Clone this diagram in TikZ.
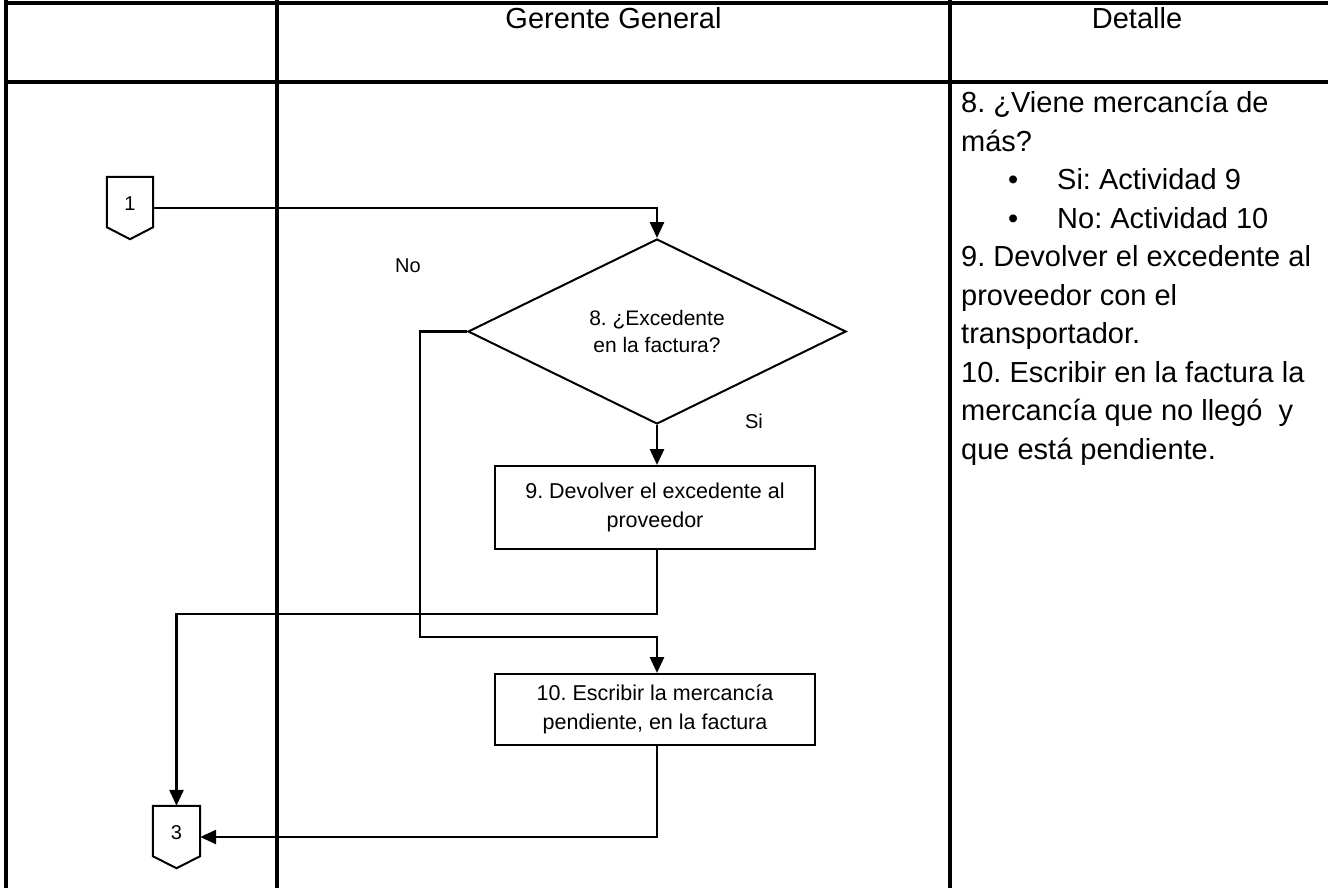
\documentclass[tikz,border=0pt]{standalone}
\usepackage{fontspec}
\setmainfont{Liberation Sans}
\usetikzlibrary{shapes.geometric,arrows.meta}
\frenchspacing

\begin{document}
\begin{tikzpicture}[x=1pt,y=-1pt,
  grid/.style={line width=3.2pt},
  flow/.style={line width=2.8pt,-{Triangle[width=14pt,length=16pt]}},
  stepbox/.style={draw,line width=2pt,rectangle,inner sep=0pt,
    minimum width=320pt,align=center,
    font=\fontsize{21.5}{29}\selectfont},
  decision/.style={draw,line width=2pt,diamond,aspect=2,inner sep=0pt,
    minimum width=378pt,minimum height=185pt,align=center,
    font=\fontsize{21}{27}\selectfont},
  offpage/.style={inner sep=0pt,font=\fontsize{20}{24}\selectfont},
  head/.style={anchor=base,font=\fontsize{29}{38}\selectfont},
  detail/.style={anchor=base west,inner sep=0pt,font=\fontsize{29}{38}\selectfont},
  tag/.style={font=\fontsize{20}{24}\selectfont}
]
\useasboundingbox (0,0) rectangle (1328,888);

% table frame
\draw[grid] (6,0) -- (6,888);
\draw[grid] (277,0) -- (277,888);
\draw[grid] (950,0) -- (950,888);
\draw[grid] (4.4,3) -- (1328,3);
\draw[grid] (4.4,82) -- (1328,82);

% header
\node[head] (hgg) at (613.5,29) {Gerente General};
\node[head] (hdet) at (1137,29) {Detalle};

% off-page connectors
\node[offpage,minimum width=46pt,minimum height=62pt] (c1) at (130,208) {\raisebox{8pt}{1}};
\draw[line width=2pt] (c1.north west) -- (c1.north east) -- ([yshift=12pt]c1.south east)
  -- (c1.south) -- ([yshift=12pt]c1.south west) -- cycle;
\node[offpage,minimum width=47pt,minimum height=62pt] (c3) at (176.5,837) {\raisebox{8pt}{3}};
\draw[line width=2pt] (c3.north west) -- (c3.north east) -- ([yshift=12pt]c3.south east)
  -- (c3.south) -- ([yshift=12pt]c3.south west) -- cycle;

% flow elements
\node[decision] (d) at (657,331.5) {8. ¿Excedente\\en la factura?};
\node[stepbox,minimum height=83pt] (b9) at (655,507.5) {9. Devolver el excedente al\\proveedor};
\node[stepbox,minimum height=71pt] (b10) at (655,709.5) {10. Escribir la mercancía\\pendiente, en la factura};

% branch labels
\node[tag] (lno) at (408,266) {No};
\node[tag] (lsi) at (754,421) {Si};

% connectors
\draw[flow] (c1.east) -| (d.north);
\draw[flow] (d.south) -- (d.south |- b9.north);
\coordinate (nobend) at (420,637);
\draw[flow] (d.west) -| (nobend) -| (d.south |- b10.north);
\draw[flow] (d.south |- b9.south) -- ++(0,64) -| (c3.north);
\draw[flow] (d.south |- b10.south) |- (c3.east);

% detail column
\node[detail] (t1) at (961,113) {8. ¿Viene mercancía de};
\node[detail] (t2) at (961,151.4) {más?};
\node[detail] (t3) at (1008,189.9) {•};
\node[detail] (t3b) at (1057,189.9) {Si: Actividad 9};
\node[detail] (t4) at (1008,228.3) {•};
\node[detail] (t4b) at (1057,228.3) {No: Actividad 10};
\node[detail] (t5) at (961,266.8) {9. Devolver el excedente al};
\node[detail] (t6) at (961,305.2) {proveedor con el};
\node[detail] (t7) at (961,343.6) {transportador.};
\node[detail] (t8) at (961,382.1) {10. Escribir en la factura la};
\node[detail] (t9) at (961,420.5) {mercancía que no llegó~ y};
\node[detail] (t10) at (961,459) {que está pendiente.};
\end{tikzpicture}
\end{document}
